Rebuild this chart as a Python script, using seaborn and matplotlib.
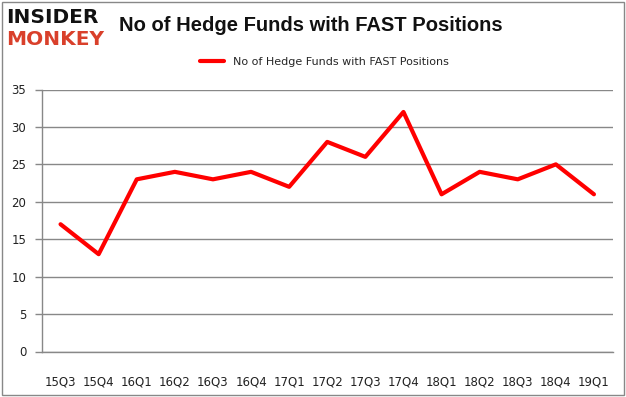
import matplotlib
matplotlib.use("Agg")
import matplotlib.pyplot as plt
import seaborn as sns
import pandas as pd
from matplotlib.patches import Rectangle

quarters = ["15Q3", "15Q4", "16Q1", "16Q2", "16Q3", "16Q4", "17Q1", "17Q2",
            "17Q3", "17Q4", "18Q1", "18Q2", "18Q3", "18Q4", "19Q1"]
funds = [17, 13, 23, 24, 23, 24, 22, 28, 26, 32, 21, 24, 23, 25, 21]
yticks = [0, 5, 10, 15, 20, 25, 30, 35]
series_name = "No of Hedge Funds with FAST Positions"

sns.set_style("white")
plt.rcParams['font.family'] = ['DejaVu Sans']

df = pd.DataFrame({"q": range(len(quarters)), "v": funds})

fig = plt.figure(figsize=(6.26, 3.97), dpi=100)
ax = fig.add_axes([41.5/626, 1 - 351.5/397, (613-41.5)/626, (351.5-89.5)/397])

sns.lineplot(data=df, x="q", y="v", ax=ax, color="#ff0000", linewidth=3,
             label=series_name)

ax.set_xlim(-0.5, len(quarters) - 0.5)
ax.set_ylim(0, 35)
ax.set_yticks(yticks)
ax.set_yticklabels([str(t) for t in yticks], fontsize=8.5, color="#222222")
ax.set_xticks(range(len(quarters)))
ax.set_xticklabels(quarters, fontsize=8.5, color="#222222")
ax.set_xticks([i - 0.5 for i in range(len(quarters) + 1)], minor=True)
ax.tick_params(axis="x", which="major", length=0, pad=17)
ax.tick_params(axis="x", which="minor", length=5, color="#888888", width=1, direction="out")
ax.tick_params(axis="y", length=5, color="#888888", width=1, direction="out", pad=6, left=True)
ax.set_xlabel("")
ax.set_ylabel("")
ax.grid(axis="y", color="#888888", linewidth=1)
ax.set_axisbelow(True)
for s in ["top", "right"]:
    ax.spines[s].set_visible(False)
for s in ["left", "bottom"]:
    ax.spines[s].set_color("#888888")
    ax.spines[s].set_linewidth(1)

leg = ax.legend(loc="upper center", bbox_to_anchor=(0.5 - 0.005, 1.14), frameon=False,
                fontsize=8, handlelength=2.2, borderaxespad=0)

fig.text(0.497, 0.935, "No of Hedge Funds with FAST Positions", ha="center", va="center",
         fontsize=14.5, fontweight="bold", color="#111111", family=["Liberation Sans"])

# logo
fig.text(0.009, 0.955, "INSIDER", ha="left", va="center", fontsize=14.5, fontweight="heavy",
         color="#111111")
fig.text(0.009, 0.900, "MONKEY", ha="left", va="center", fontsize=14.5, fontweight="heavy",
         color="#d9402b")

fig.patches.append(Rectangle((0.003, 0.004), 0.994, 0.992, transform=fig.transFigure,
                             fill=False, edgecolor="#888888", linewidth=1))

fig.savefig("out.png", dpi=100)
